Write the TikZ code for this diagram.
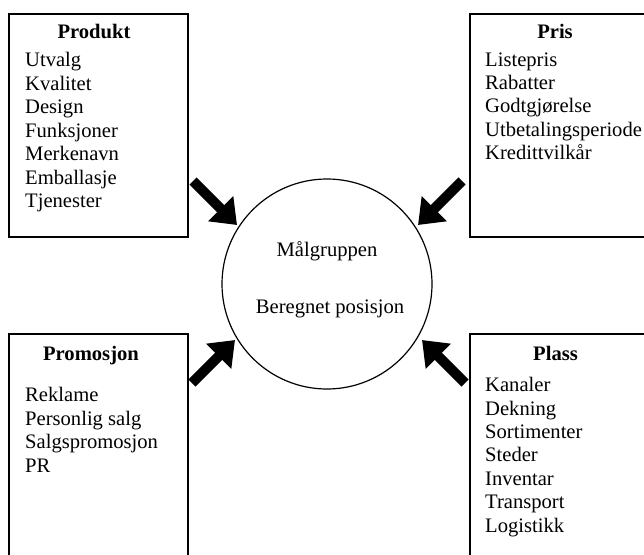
\documentclass[tikz,border=0pt]{standalone}
\usepackage{fontspec}
\setmainfont{Liberation Serif}
\usetikzlibrary{arrows.meta}
\tikzset{
  box/.style={draw, line width=1.5pt, inner sep=0pt},
  title/.style={anchor=base, inner sep=0pt, font=\fontsize{20.6}{23.5}\selectfont\bfseries},
  item/.style={anchor=base west, inner sep=0pt, font=\fontsize{20.6}{23.5}\selectfont},
  ctext/.style={anchor=base, inner sep=0pt, font=\fontsize{20.6}{23.5}\selectfont},
  fatarrow/.style={line width=10pt, -{Triangle[width=34pt,length=23pt]}},
}
\begin{document}
\begin{tikzpicture}[x=1pt,y=-1pt]
\useasboundingbox (0,0) rectangle (644,554);
\clip (0,0) rectangle (644,554);
\fill[white] (0,0) rectangle (644,554);
% boxes
\draw[box] (9,14) rectangle (188,237);
\draw[box] (470,14) rectangle (649,237);
\draw[box] (9,334) rectangle (188,570);
\draw[box] (470,334) rectangle (649,570);
\node[draw, circle, line width=1.2pt, minimum size=210pt, inner sep=0pt] (circ) at (327,284) {};
% titles
\node[title] (tprod) at (94,38) {Produkt};
\node[title] (tpris) at (555,38) {Pris};
\node[title] (tprom) at (91,360) {Promosjon};
\node[title] (tplass) at (555.5,360) {Plass};
% items
\foreach \t [count=\i] in {Utvalg,Kvalitet,Design,Funksjoner,Merkenavn,Emballasje,Tjenester}
  \node[item] (prod\i) at (25,{66.7+23.5*(\i-1)}) {\t};
\foreach \t [count=\i] in {Listepris,Rabatter,Godtgjørelse,Utbetalingsperiode,Kredittvilkår}
  \node[item] (pris\i) at (485,{66+23.4*(\i-1)}) {\t};
\foreach \t [count=\i] in {Reklame,Personlig salg,Salgspromosjon,PR}
  \node[item] (prom\i) at (25,{401.7+23.5*(\i-1)}) {\t};
\foreach \t [count=\i] in {Kanaler,Dekning,Sortimenter,Steder,Inventar,Transport,Logistikk}
  \node[item] (plass\i) at (485,{391.7+23.4*(\i-1)}) {\t};
% circle text
\node[ctext] (mal) at (327,256) {Målgruppen};
\node[ctext] (pos) at (330,313) {Beregnet posisjon};
% arrows
\coordinate (tlA) at (193,181); \coordinate (tlB) at (237,225);
\coordinate (trA) at (462,181); \coordinate (trB) at (418,225);
\coordinate (blA) at (192,383); \coordinate (blB) at (235,340);
\coordinate (brA) at (465,383); \coordinate (brB) at (422,340);
\draw[fatarrow] (tlA) -- (tlB);
\draw[fatarrow] (trA) -- (trB);
\draw[fatarrow] (blA) -- (blB);
\draw[fatarrow] (brA) -- (brB);
\end{tikzpicture}
\end{document}
